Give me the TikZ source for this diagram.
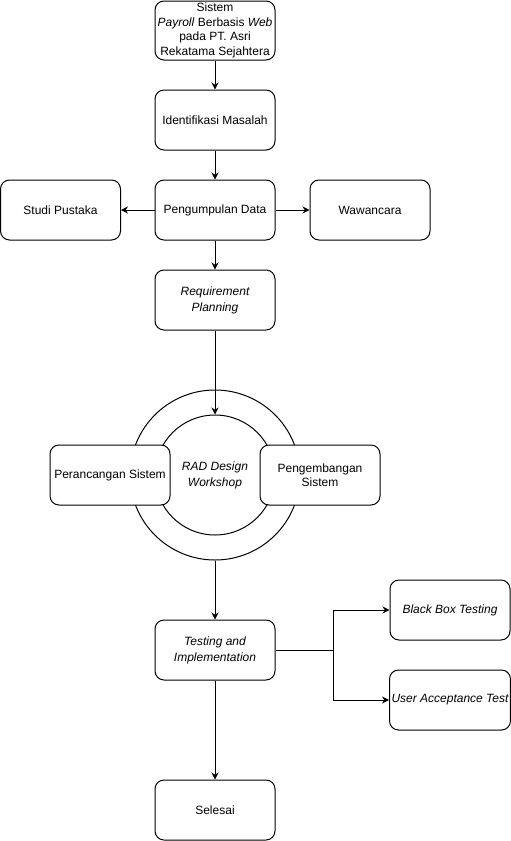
\documentclass[tikz,border=0pt]{standalone}
\usepackage{fontspec}
\setmainfont{Liberation Sans}
\usetikzlibrary{arrows.meta}
\begin{document}
\begin{tikzpicture}[x=1pt,y=-1pt,
  box/.style={draw, fill=white, rounded corners=9pt, minimum width=120pt, minimum height=60pt,
    align=center, inner sep=2pt, line width=1pt, font=\fontsize{12}{14.5}\selectfont},
  conn/.style={line width=1pt, -{Stealth[length=7pt,width=7pt]}},
  plain/.style={line width=1pt},
  ring/.style={draw, circle, line width=1pt, inner sep=0pt}]
\useasboundingbox (0,0) rectangle (511,841);
% circles
\node[ring, minimum size=170pt] (outer) at (215,475) {};
\node[ring, minimum size=120pt, align=center, font=\fontsize{12}{16}\selectfont\itshape] (inner) at (215,475) {RAD Design\\Workshop};
% boxes
\node[box, minimum height=59pt] (start) at (215,30.5) {Sistem\\\textit{Payroll} Berbasis \textit{Web}\\pada PT. Asri\\Rekatama Sejahtera};
\node[box] (idm) at (215,120) {Identifikasi Masalah};
\node[box] (pd) at (215,210) {Pengumpulan Data};
\node[box] (sp) at (60.5,210) {Studi Pustaka};
\node[box] (ww) at (370,210) {Wawancara};
\node[box, font=\fontsize{12}{16}\selectfont\itshape] (rp) at (215,300) {Requirement\\Planning};
\node[box] (ps) at (110,475) {Perancangan Sistem};
\node[box] (pg) at (320,475) {Pengembangan\\Sistem};
\node[box, font=\fontsize{12}{16}\selectfont\itshape] (ti) at (215,650) {Testing and\\Implementation};
\node[box, font=\fontsize{12}{14.5}\selectfont\itshape] (bb) at (450,610) {Black Box Testing};
\node[box, font=\fontsize{12}{14.5}\selectfont\itshape] (uat) at (450,700) {User Acceptance Test};
\node[box] (end) at (215,810) {Selesai};
% connectors
\draw[conn] (start) -- (idm);
\draw[conn] (idm) -- (pd);
\draw[conn] (pd) -- (sp);
\draw[conn] (pd) -- (ww);
\draw[conn] (pd) -- (rp);
\draw[conn] (rp) -- (inner.north);
\draw[conn] (outer.south) -- (ti.north);
\coordinate (split) at (333,650);
\draw[plain] (ti.east) -- (split);
\draw[conn] (split) |- (bb.west);
\draw[conn] (split) |- (uat.west);
\draw[conn] (ti) -- (end);
\end{tikzpicture}
\end{document}
